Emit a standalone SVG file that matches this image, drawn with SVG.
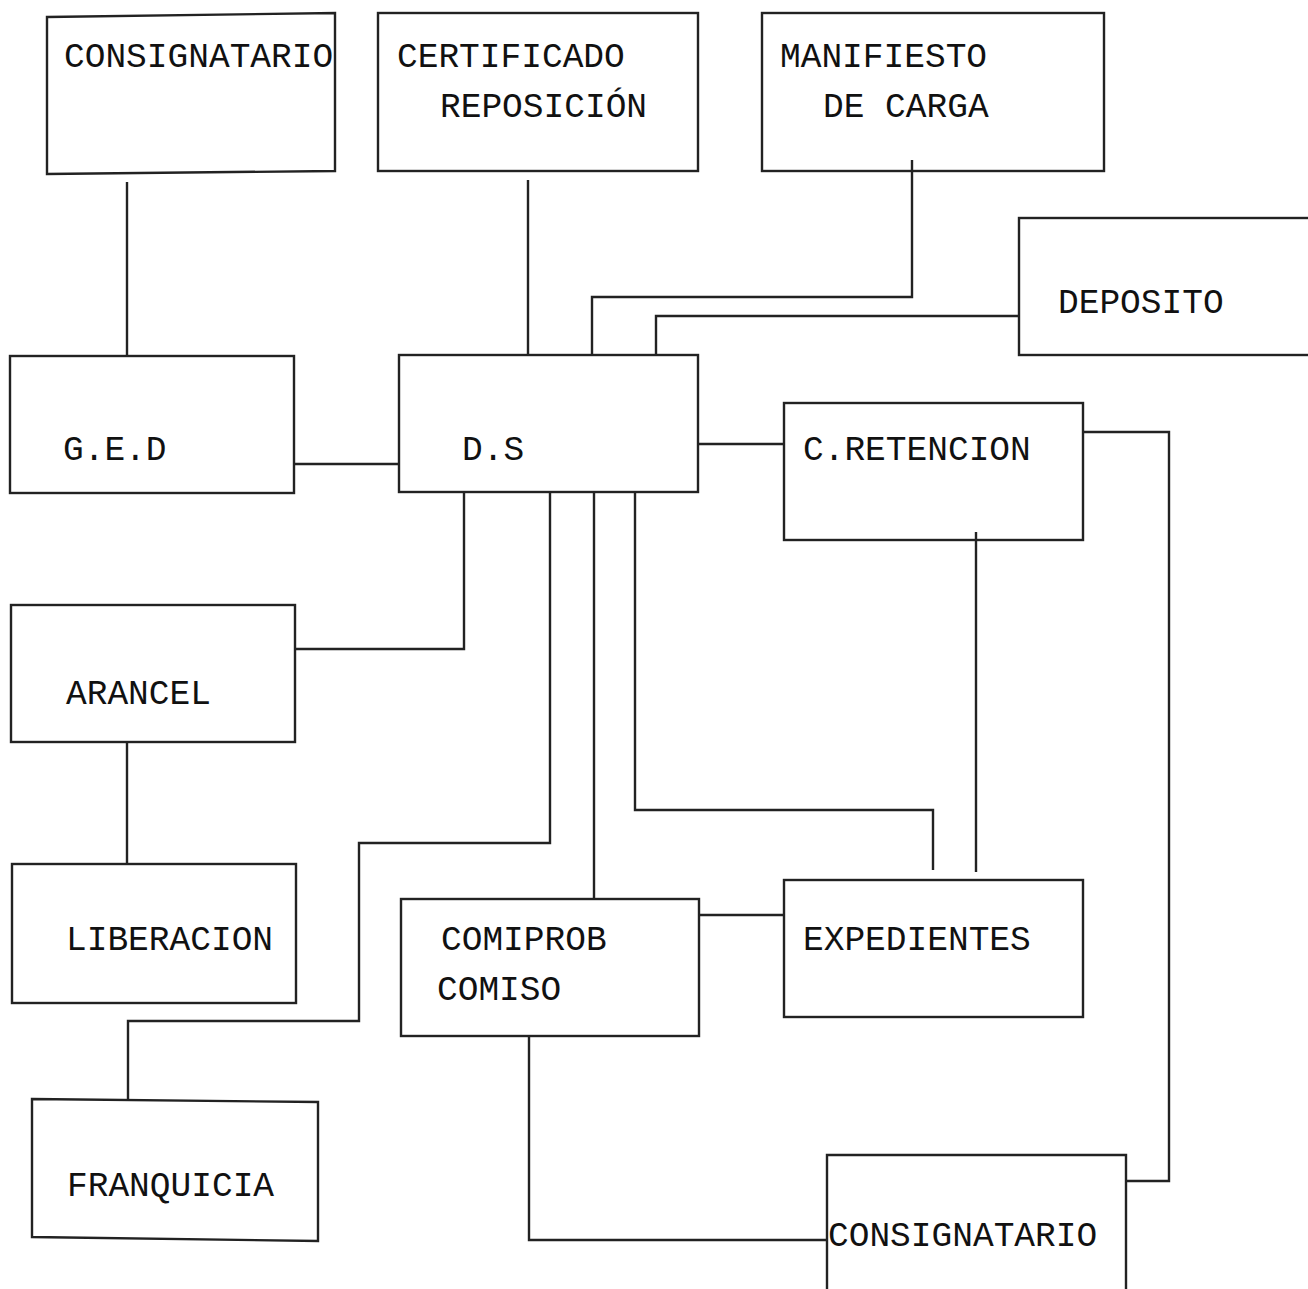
<svg xmlns="http://www.w3.org/2000/svg" width="1308" height="1289" viewBox="0 0 1308 1289">
<style>
.box{fill:#fff;stroke:#222;stroke-width:2.4}
.ln{fill:none;stroke:#222;stroke-width:2.4}
text{font-family:"Liberation Mono","Courier New",monospace;font-size:34.5px;fill:#111}
</style>
<rect width="1308" height="1289" fill="#fff"/>
<g id="consignatario-top"><polygon class="box" points="47,17 335,13 335,171 47,174"/><text x="64" y="67">CONSIGNATARIO</text></g>
<g id="certificado"><rect class="box" x="378" y="13" width="320" height="158"/><text x="397" y="67">CERTIFICADO</text><text x="440" y="117">REPOSICIÓN</text></g>
<g id="manifiesto"><rect class="box" x="762" y="13" width="342" height="158"/><text x="780" y="67">MANIFIESTO</text><text x="823" y="117">DE CARGA</text></g>
<g id="deposito"><rect class="box" x="1019" y="218" width="295" height="137"/><text x="1058" y="313">DEPOSITO</text></g>
<g id="ged"><rect class="box" x="10" y="356" width="284" height="137"/><text x="63" y="460">G.E.D</text></g>
<g id="ds"><rect class="box" x="399" y="355" width="299" height="137"/><text x="462" y="460">D.S</text></g>
<g id="cretencion"><rect class="box" x="784" y="403" width="299" height="137"/><text x="803" y="460">C.RETENCION</text></g>
<g id="arancel"><rect class="box" x="11" y="605" width="284" height="137"/><text x="66" y="704">ARANCEL</text></g>
<g id="liberacion"><rect class="box" x="12" y="864" width="284" height="139"/><text x="66" y="950">LIBERACION</text></g>
<g id="comiprob"><rect class="box" x="401" y="899" width="298" height="137"/><text x="441" y="950">COMIPROB</text><text x="437" y="1000">COMISO</text></g>
<g id="expedientes"><rect class="box" x="784" y="880" width="299" height="137"/><text x="803" y="950">EXPEDIENTES</text></g>
<g id="franquicia"><polygon class="box" points="32,1099 318,1102 318,1241 32,1237"/><text x="67" y="1196">FRANQUICIA</text></g>
<g id="consignatario-bottom"><path class="box" d="M827 1292V1155H1126V1292"/><text x="828" y="1246">CONSIGNATARIO</text></g>
<g id="connectors">
<path class="ln" d="M127 182V356"/>
<path class="ln" d="M528 180V355"/>
<path class="ln" d="M912 160V297H592V355"/>
<path class="ln" d="M1019 316H656V355"/>
<path class="ln" d="M294 464H399"/>
<path class="ln" d="M698 444H784"/>
<path class="ln" d="M464 492V649H295"/>
<path class="ln" d="M550 492V843H359V1021H128V1100"/>
<path class="ln" d="M594 492V899"/>
<path class="ln" d="M635 492V810H933V870"/>
<path class="ln" d="M976 532V872"/>
<path class="ln" d="M1083 432H1169V1181H1126"/>
<path class="ln" d="M699 915H784"/>
<path class="ln" d="M127 742V864"/>
<path class="ln" d="M529 1036V1240H827"/>
</g>
</svg>
